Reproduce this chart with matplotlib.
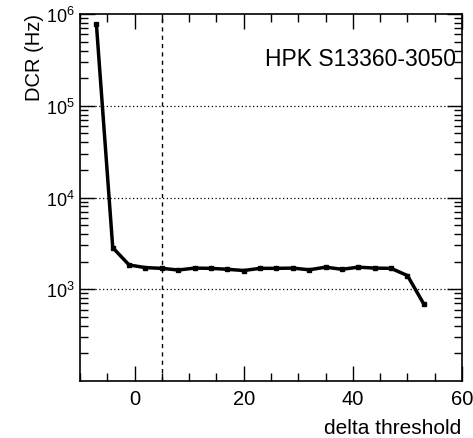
import matplotlib
matplotlib.use("Agg")
import matplotlib.pyplot as plt
from matplotlib.ticker import LogLocator, MultipleLocator, FixedLocator, NullFormatter
import numpy as np

plt.rcParams['font.family'] = ['Liberation Sans', 'DejaVu Sans']

threshold = [-7, -4, -1, 2, 5, 8, 11, 14, 17, 20, 23, 26, 29, 32, 35, 38, 41, 44, 47, 50, 53]
dcr = [780000, 2840, 1840, 1720, 1690, 1620, 1700, 1690, 1650, 1600, 1690, 1690, 1700,
       1630, 1740, 1650, 1740, 1700, 1690, 1410, 690]
dcr_err = [20000, 120, 60, 50, 40, 40, 40, 40, 40, 40, 40, 40, 40, 40, 40, 40, 40, 40, 40, 40, 40]
cut_line = 5
label_text = "HPK S13360-3050"

fig = plt.figure(figsize=(4.73, 4.39), dpi=100)
ax = fig.add_axes([80/473, 1-382/439, (462-80)/473, (382-15)/439])

ax.errorbar(threshold, dcr, yerr=dcr_err, color='black', lw=2.5, marker='s', ms=3,
            capsize=0, elinewidth=1.2, zorder=3)
ax.set_yscale('log')
ax.set_xlim(-10, 60)
ax.set_ylim(100, 1e6)

ax.axvline(cut_line, color='black', ls=(0, (3, 3)), lw=1.0)
for v in [1e3, 1e4, 1e5]:
    ax.axhline(v, color='black', ls=(0, (1, 2)), lw=0.9)

ax.xaxis.set_major_locator(MultipleLocator(20))
ax.xaxis.set_minor_locator(MultipleLocator(5))
ax.yaxis.set_major_locator(FixedLocator([1e3, 1e4, 1e5, 1e6]))
ax.yaxis.set_minor_locator(LogLocator(base=10, subs=np.arange(2, 10), numticks=20))
ax.yaxis.set_minor_formatter(NullFormatter())
ax.tick_params(which='both', direction='in', top=True, right=True, width=1.0)
ax.tick_params(which='major', length=11)
ax.tick_params(which='minor', length=5.5)
ax.tick_params(axis='x', pad=6, labelsize=14.5)
ax.tick_params(axis='y', pad=4, labelsize=13)
for s in ax.spines.values():
    s.set_linewidth(1.2)

ax.text(0.985, 0.88, label_text, transform=ax.transAxes, ha='right', va='center', fontsize=16.5)

fig.text(34/473, 1-14/439, 'DCR (Hz)', rotation=90, ha='center', va='top', fontsize=14.5)
fig.text(461/473, 1-429/439, 'delta threshold', ha='right', va='center', fontsize=15)

fig.savefig('out.png', dpi=100)
